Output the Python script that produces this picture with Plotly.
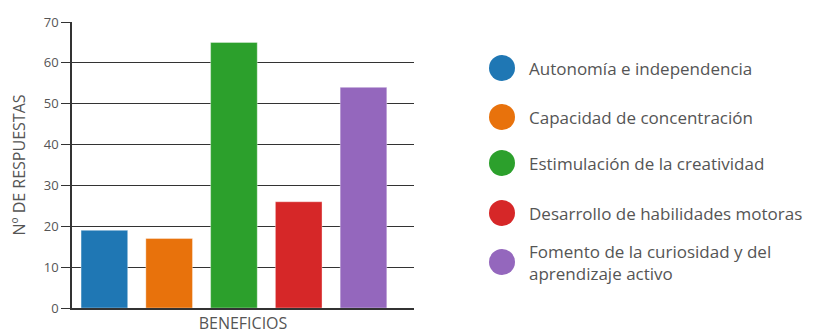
import plotly.graph_objects as go

# Survey data: perceived benefits and number of responses
categories = [
    "Autonomía e independencia",
    "Capacidad de concentración",
    "Estimulación de la creatividad",
    "Desarrollo de habilidades motoras",
    "Fomento de la curiosidad y del<br>aprendizaje activo",
]
responses = [19, 17, 65, 26, 54]
colors = ["#1f77b4", "#e8720c", "#2ca02c", "#d62728", "#9467bd"]
y_ticks = [0, 10, 20, 30, 40, 50, 60, 70]

FONT = "Open Sans"
TEXT = "#555555"
GRID = "#333333"

# Plot-area geometry in pixels (used for the hand-built legend)
W, H = 825, 334
L, R, T, B = 72, 414, 22, 308

fig = go.Figure()
for i, (name, val, col) in enumerate(zip(categories, responses, colors)):
    fig.add_trace(go.Bar(
        x=[i], y=[val], name=name, width=0.72,
        marker=dict(color=col, line=dict(color="rgba(255,255,255,0.35)", width=1)),
        showlegend=False,
    ))

# Legend with large round swatches
legend_y = [68, 117, 163, 213, 262]
for name, col, yc in zip(categories, colors, legend_y):
    yp = 1 - (yc - T) / (B - T)
    fig.add_shape(type="circle", xref="paper", yref="paper",
                  xsizemode="pixel", ysizemode="pixel",
                  xanchor=(502 - L) / (R - L), yanchor=yp,
                  x0=-13, x1=13, y0=-13, y1=13,
                  fillcolor=col, line=dict(width=0))
    fig.add_annotation(xref="paper", yref="paper",
                       x=(527 - L) / (R - L), y=yp,
                       text=name, showarrow=False, xanchor="left", yanchor="middle",
                       align="left", font=dict(family=FONT, size=17, color=TEXT))

fig.update_layout(
    width=W, height=H,
    margin=dict(l=L, r=W - R, t=T, b=H - B),
    paper_bgcolor="white", plot_bgcolor="white",
    font=dict(family=FONT, color=TEXT, size=12),
    xaxis=dict(range=[-0.5, 4.78], showticklabels=False, showgrid=False,
               zeroline=False, showline=True, linecolor=GRID, linewidth=1.6,
               ticks="", automargin=False,
               title=dict(text="BENEFICIOS", standoff=15,
                          font=dict(family=FONT, size=16, color=TEXT))),
    yaxis=dict(range=[0, 70], tickvals=y_ticks, showgrid=True, gridcolor=GRID,
               gridwidth=1.4, zeroline=False, showline=True, linecolor=GRID,
               linewidth=1.6, ticks="outside", ticklen=9, tickcolor=GRID,
               tickwidth=1.4, tickfont=dict(family=FONT, size=13, color=TEXT),
               automargin=False,
               title=dict(text="Nº DE RESPUESTAS", standoff=14,
                          font=dict(family=FONT, size=16, color=TEXT))),
)

fig.write_html("out.html")
